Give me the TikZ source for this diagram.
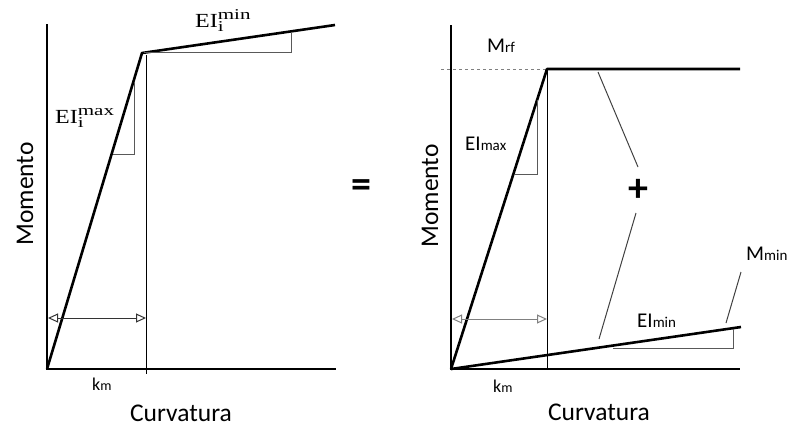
\documentclass[tikz,border=0pt]{standalone}
\usepackage{fontspec}
\setmainfont{Liberation Serif}
\newfontfamily\calfont{Carlito}
\usetikzlibrary{arrows.meta}
\tikzset{
  axis/.style={line width=2.8pt, line cap=butt},
  curve/.style={line width=2.6pt, line join=round},
  thin line/.style={line width=1pt},
  slope/.style={line width=1pt, gray!70!black},
  leader/.style={line width=1pt, black!75},
  dimarrow/.style={line width=1pt, {Triangle[open,length=10pt,width=9pt]}-{Triangle[open,length=10pt,width=9pt]}},
  lbl/.style={inner sep=0pt, anchor=base west},
  sanslbl/.style={inner sep=0pt, font=\calfont\fontsize{25.5}{28}\selectfont},
  opsign/.style={inner sep=0pt, font=\calfont\bfseries\fontsize{40}{40}\selectfont},
}
\newcommand{\smallsub}[1]{{\fontsize{15}{15}\selectfont #1}}
\newcommand{\serifsup}[1]{\scalebox{1.4}[1]{\fontsize{15}{15}\selectfont #1}}
\newcommand{\eilabel}[1]{\scalebox{1.2}[1]{EI}\rlap{\raisebox{-0.5ex}{\scalebox{1.4}[1]{\fontsize{15}{15}\selectfont i}}}\raisebox{0.85ex}{\serifsup{#1}}}
\begin{document}
\begin{tikzpicture}[x=1pt,y=-1pt]
\useasboundingbox (0,0) rectangle (789,429);
% ---------- left panel ----------
\coordinate (LO) at (47,369);
\coordinate (Ltop) at (47,24);
\coordinate (Lxend) at (336,369);
\coordinate (LK) at (142,53);
\coordinate (LE) at (335,25);
\coordinate (LVt) at (146,55);
\coordinate (LVb) at (146,374);
\draw[axis] (Ltop) -- (LO) -- (Lxend);
\draw[thin line] (LVt) -- (LVb);
\draw[curve] (LO) -- (LK) -- (LE);
% slope triangles
\coordinate (LS1a) at (134,82);
\coordinate (LS1b) at (134,154);
\coordinate (LS1c) at (113,154);
\draw[slope] (LS1a) -- (LS1b) -- (LS1c);
\coordinate (LS2a) at (144,52);
\coordinate (LS2b) at (291,52);
\coordinate (LS2c) at (291,32);
\draw[slope] (LS2a) -- (LS2b) -- (LS2c);
% dimension arrow
\coordinate (LA1) at (48,318);
\coordinate (LA2) at (146,318);
\draw[dimarrow, black!80] (LA1) -- (LA2);
% labels
\node[lbl, font=\fontsize{20}{22}\selectfont] (eimax) at (55,123) {\eilabel{max}};
\node[lbl, font=\fontsize{20}{22}\selectfont] (eimin) at (195,27) {\eilabel{min}};
\node[lbl, font=\calfont\fontsize{18}{18}\selectfont] (kmL) at (92,390) {k{\fontsize{14}{14}\selectfont m}};
\node[sanslbl, anchor=base] (curvL) at (181,421) {Curvatura};
\node[sanslbl, rotate=90, anchor=base] (momL) at (33,194) {Momento};
% equals
\node[opsign] (eq) at (361,189) {=};
% ---------- right panel ----------
\coordinate (RO) at (451,369);
\coordinate (Rtop) at (451,25);
\coordinate (Rxend) at (740,369);
\coordinate (RK) at (547,69);
\coordinate (RE) at (740,69);
\coordinate (RD) at (441,69);
\coordinate (RVb) at (547,369);
\coordinate (RL) at (741,327);
\draw[axis] (Rtop) -- (RO) -- (Rxend);
\draw[thin line] (RK) -- (RVb);
\draw[line width=1pt, gray, dash pattern=on 3pt off 3pt] (RD) -- (RK);
\draw[curve] (RO) -- (RK) -- (RE);
\draw[curve] (RO) -- (RL);
% slope triangles
\coordinate (RS1a) at (537,100);
\coordinate (RS1b) at (537,174);
\coordinate (RS1c) at (515,174);
\draw[slope] (RS1a) -- (RS1b) -- (RS1c);
\coordinate (RS2a) at (613,348);
\coordinate (RS2b) at (733,348);
\coordinate (RS2c) at (733,329);
\draw[slope] (RS2a) -- (RS2b) -- (RS2c);
% dimension arrow
\coordinate (RA1) at (452,319);
\coordinate (RA2) at (547,319);
\draw[dimarrow, gray] (RA1) -- (RA2);
% leaders
\coordinate (P1a) at (598,72);
\coordinate (P1b) at (638,167);
\coordinate (P2a) at (636,213);
\coordinate (P2b) at (599,339);
\coordinate (M1a) at (741,272);
\coordinate (M1b) at (726,323);
\draw[leader] (P1a) -- (P1b);
\draw[leader] (P2a) -- (P2b);
\draw[leader] (M1a) -- (M1b);
\node[opsign] (plus) at (638,190) {+};
% labels
\node[lbl, font=\calfont\fontsize{21}{22}\selectfont] (mrf) at (487,52) {M\smallsub{rf}};
\node[lbl, font=\calfont\fontsize{21}{22}\selectfont] (elmax) at (465,150) {EI\smallsub{max}};
\node[lbl, font=\calfont\fontsize{21}{22}\selectfont] (elmin) at (637,327) {EI\smallsub{min}};
\node[lbl, font=\calfont\fontsize{21}{22}\selectfont] (mmin) at (746,260) {M\smallsub{min}};
\node[lbl, font=\calfont\fontsize{18}{18}\selectfont] (kmR) at (493,392) {k{\fontsize{14}{14}\selectfont m}};
\node[sanslbl, anchor=base] (curvR) at (599,420) {Curvatura};
\node[sanslbl, rotate=90, anchor=base] (momR) at (438,196) {Momento};
\end{tikzpicture}
\end{document}
